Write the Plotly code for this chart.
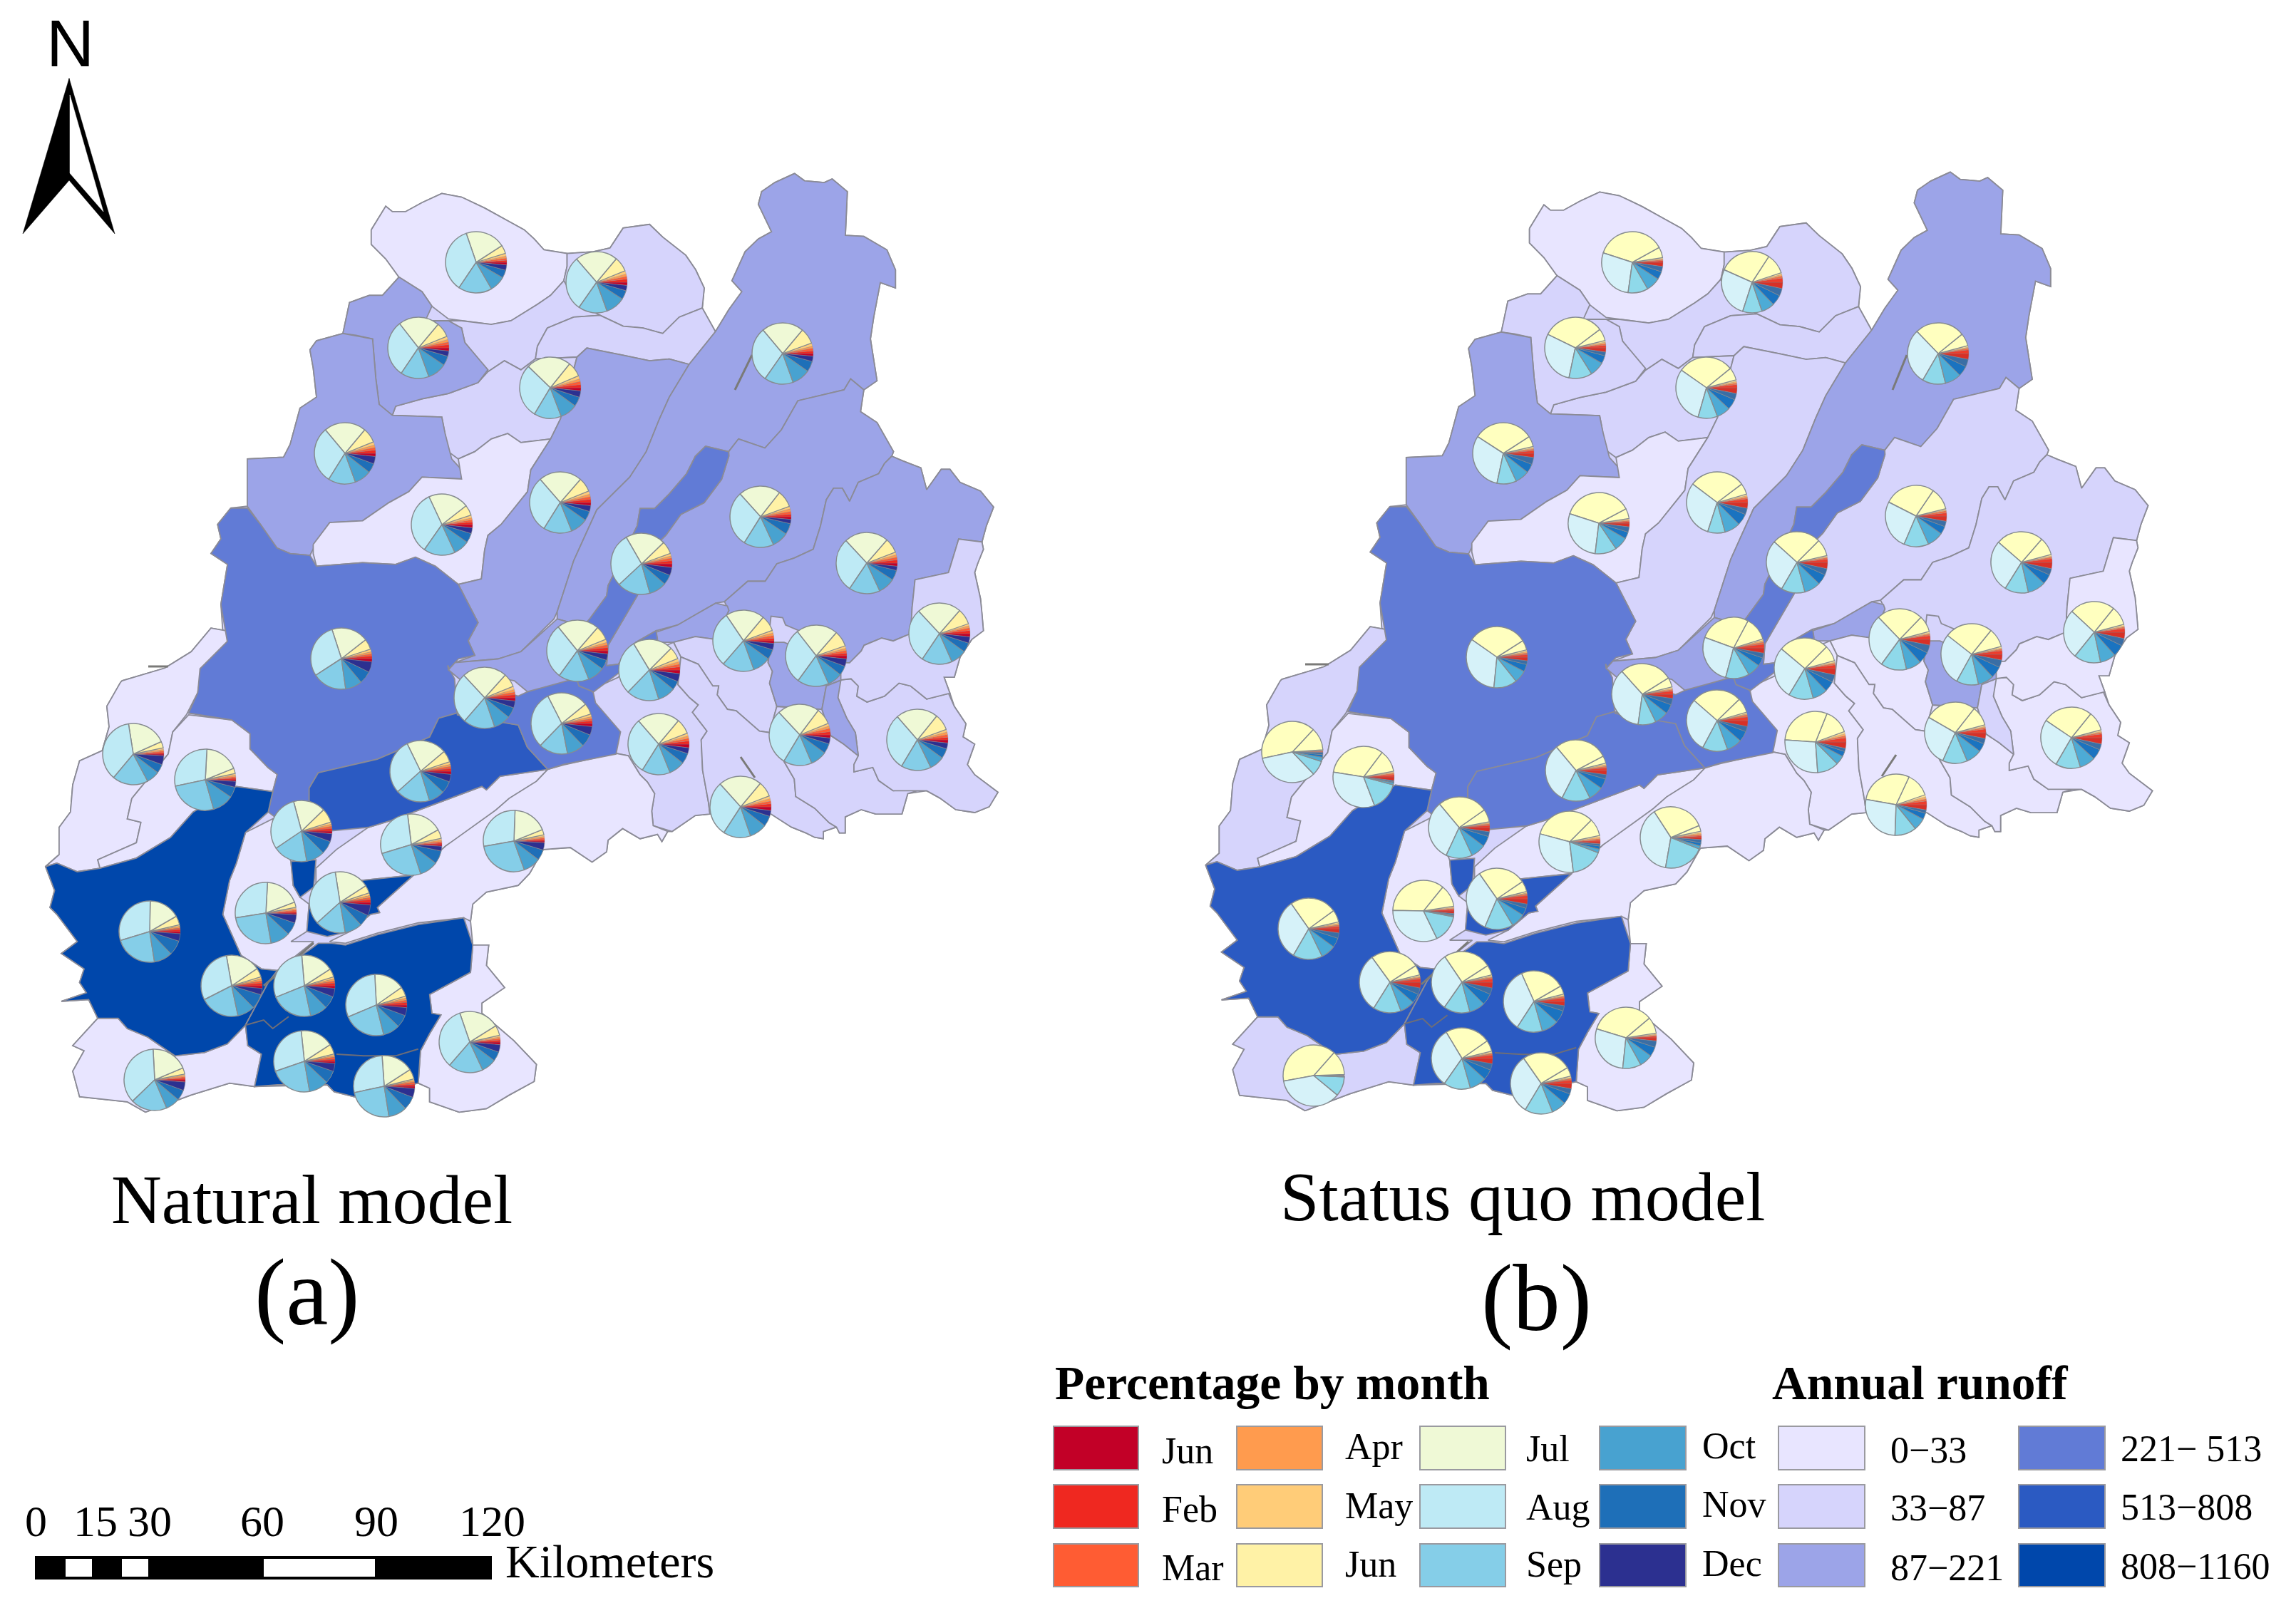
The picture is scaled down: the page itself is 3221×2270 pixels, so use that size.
import plotly.graph_objects as go

W, H = 3221, 2270

def z1(p): return [(x / 1.081, 200 + y / 1.96) for x, y in p]
def z2(p): return [(x / 1.568, 900 + y / 2.09) for x, y in p]
def z9(p): return [(800 + x / 2.45, 640 + y / 2.45) for x, y in p]

RUNOFF_COLORS = ['#E8E5FF', '#D6D4FC', '#9CA4E8', '#617BD6', '#2B5AC2', '#0047AB']
RUNOFF_LABELS = ['0\u221233', '33\u221287', '87\u2212221', '221\u2212 513', '513\u2212808', '808\u22121160']
MONTH_LABELS = ['Jun', 'Feb', 'Mar', 'Apr', 'May', 'Jun', 'Jul', 'Aug', 'Sep', 'Oct', 'Nov', 'Dec']
MONTH_COLORS_A = ['#C20027', '#EF2820', '#FF5C33', '#FF9B4E', '#FFCC78', '#FFF2A6',
                  '#EFF9D6', '#BEEAF5', '#85CEE8', '#48A2D0', '#1E6FB8', '#2C3090']
MONTH_COLORS_B = ['#D73027', '#EE3B2B', '#F46D43', '#FDAE61', '#FEE090', '#FFFFBF',
                  '#FFFFBF', '#D6F2F9', '#8FD9EA', '#4DABD6', '#1A73C0', '#3A6EA5']

# ---- sub-basin outlines
OUTER = (z1([(563,240),(585,175),(595,190),(615,190),(640,165),(670,140),(700,150),(735,180),(770,215),(795,240),(810,265),(825,295),(860,305),(900,300),(925,290),(945,235),(985,225),(1005,260),(1040,310),(1055,350),(1068,400),(1065,455),(1085,520),(1105,460),(1125,410),(1110,380),(1130,300),(1150,265),(1170,245),(1150,170),(1155,135),(1175,110),(1205,85),(1220,105),(1250,110),(1262,100),(1285,135),(1282,255),(1310,258),(1345,295),(1358,350),(1358,400),(1335,385),(1325,480),(1320,540),(1330,655),(1310,680),(1305,740),(1330,770),(1355,850)])
         + z9([(1105,0),(1140,15),(1205,40),(1225,115),(1275,45),(1305,45),(1340,90),(1410,120),(1455,175),(1430,240),(1415,295),(1420,320),(1400,370),(1390,400),(1410,490),(1415,540),(1420,600),(1380,630),(1340,690),(1320,760),(1285,760),(1305,815),(1320,860),(1360,920),(1350,965),(1390,990),(1365,1060),(1390,1095),(1470,1155),(1440,1205),(1390,1225),(1325,1215),(1270,1175),(1225,1150),(1160,1160),(1140,1230),(1050,1230),(1000,1215),(945,1240),(945,1295),(925,1295),(915,1275),(870,1290),(870,1315),(840,1310),(810,1295),(760,1275),(690,1230),(480,1230),(430,1235),(350,1290),(335,1290),(315,1325),(300,1300),(240,1315),(180,1280),(130,1320),(125,1360),(75,1395),(0,1345)])
         + z2([(1195,610),(1165,680),(1140,715),(1070,735),(1040,770),(1035,820),(1040,890),(1075,890),(1070,950),(1110,1015),(1060,1060),(1060,1090),(1130,1170),(1180,1240),(1175,1290),(1120,1330),(1070,1370),(1010,1380),(945,1350),(945,1310),(920,1295),(780,1335),(735,1320),(720,1300),(560,1305),(505,1295),(420,1330),(320,1380),(280,1350),(175,1335),(160,1260),(185,1200),(160,1185),(215,1105),(195,1050),(135,1055),(190,1030),(175,1000),(185,960),(135,915),(170,880),(125,800),(110,780),(120,730),(100,660),(130,625),(130,545),(155,500),(160,420),(175,350),(225,320),(240,250),(235,190),(265,120)])
         + z1([(185,1480),(250,1445),(290,1400),(320,1335),(350,1345),(340,1400),(335,1270),(345,1160),(320,1130),(335,1090),(330,1050),(350,1005),(375,1000),(375,870),(430,865),(440,830),(455,730),(480,700),(475,620),(470,570),(480,545),(520,525),(530,440),(560,420),(580,420),(605,370),(585,320),(563,280)]))
N1 = z1([(563,240),(585,175),(595,190),(615,190),(640,165),(670,140),(700,150),(735,180),(770,215),(795,240),(810,265),(825,295),(860,305),(860,340),(855,380),(835,420),(815,445),(775,490),(745,500),(700,490),(680,485),(655,450),(640,410),(605,370),(585,320),(563,280)])
N2 = z1([(860,305),(900,300),(925,290),(945,235),(985,225),(1005,260),(1040,310),(1055,350),(1068,400),(1065,455),(1030,480),(1005,525),(975,510),(945,505),(910,475),(875,440),(855,380),(860,340)])
N3 = z1([(650,490),(700,490),(745,500),(775,490),(815,445),(835,420),(855,380),(875,440),(910,475),(870,480),(830,510),(815,560),(812,595),(790,625),(765,600),(740,630),(705,550),(700,510)])
N6 = z1([(910,475),(945,505),(975,510),(1005,525),(1030,480),(1065,455),(1085,520),(1045,610),(1015,595),(985,600),(945,585),(890,565),(875,590),(812,595),(815,560),(830,510),(870,480)])
N7 = z1([(740,630),(765,600),(790,625),(812,595),(875,590),(850,760),(835,815),(790,825),(770,800),(745,815),(720,850),(695,870),(680,850),(670,755),(595,750),(600,725),(640,705),(680,690),(725,660)])
N4 = z1([(520,525),(530,440),(560,420),(580,420),(605,370),(640,410),(655,450),(645,490),(680,490),(700,510),(705,550),(740,625),(725,660),(680,690),(640,705),(600,725),(595,750),(575,720),(570,650),(565,540),(540,530)])
N5 = z1([(470,570),(480,545),(510,530),(520,525),(565,540),(570,650),(575,720),(595,750),(670,755),(675,800),(685,870),(700,900),(700,925),(640,920),(620,960),(590,990),(550,1040),(500,1045),(480,1100),(470,1135),(440,1130),(420,1115),(395,1050),(375,1000),(375,870),(430,865),(440,830),(455,730),(480,700),(475,620)])
N9 = z1([(475,1105),(500,1045),(550,1040),(590,990),(620,960),(640,920),(700,925),(695,870),(720,850),(745,815),(770,800),(790,825),(835,815),(805,900),(800,960),(760,1050),(740,1080),(735,1120),(730,1200),(695,1215),(660,1165),(630,1140),(600,1160),(550,1155),(480,1165),(475,1130)])
N8 = z1([(875,590),(890,565),(945,585),(985,600),(1015,595),(1045,610),(1015,700),(1000,760),(980,850),(955,920),(905,1010),(870,1150),(845,1290),(840,1310),(790,1400),(755,1420),(690,1430),(720,1410),(710,1370),(725,1320),(695,1215),(730,1200),(735,1120),(740,1080),(760,1050),(800,960),(805,900),(835,815),(850,760)])
N8B = z1([(845,1310),(895,1335),(885,1400),(880,1470),(830,1495),(800,1510),(780,1480),(750,1470),(700,1480),(680,1450),(690,1430),(755,1420),(790,1400)])
N10 = z1([(1205,85),(1220,105),(1250,110),(1262,100),(1285,135),(1282,255),(1310,258),(1345,295),(1358,350),(1358,400),(1335,385),(1325,480),(1320,540),(1330,655),(1310,680),(1290,650),(1280,680),(1210,710),(1185,790),(1160,840),(1120,815),(1105,850),(1070,835)]) + z9([(430,0),(400,60),(340,130),(290,180),(240,180),(230,240),(130,445),(125,480),(70,555)]) + z1([(895,1335),(845,1310),(845,1290),(870,1150),(905,1010),(955,920),(980,850),(1000,760),(1015,700),(1045,610),(1085,520),(1105,460),(1125,410),(1110,380),(1130,300),(1150,265),(1170,245),(1150,170),(1155,135),(1175,110)])
N12 = z1([(1105,850),(1120,815),(1160,840),(1185,790),(1210,710),(1280,680),(1290,650),(1310,680),(1305,740),(1330,770),(1355,850)]) + z9([(1105,0),(1080,25),(1060,60),(990,90),(960,155),(935,110),(905,110),(880,150),(860,240),(835,320),(770,350),(710,370),(670,430),(610,430),(530,500),(500,505),(430,545),(370,580),(295,600),(225,640),(165,715),(125,720),(130,650),(160,600),(230,480),(310,290),(330,270),(380,200),(460,160),(520,80),(545,0)])
N13 = z9([(1105,0),(1140,15),(1205,40),(1225,115),(1275,45),(1305,45),(1340,90),(1410,120),(1455,175),(1430,240),(1415,295),(1335,285),(1300,400),(1185,425),(1175,520),(1170,610),(1110,635),(1070,625),(1010,650),(1000,670),(960,710),(935,710),(930,660),(740,580),(730,555),(690,550),(680,640),(500,630),(545,530),(530,500),(610,430),(670,430),(710,370),(770,350),(835,320),(860,240),(880,150),(905,110),(935,110),(960,155),(990,90),(1060,60),(1080,25)])
N14 = z9([(295,605),(370,580),(430,545),(500,505),(540,515),(545,530),(500,630),(430,620),(355,640),(300,640)])
STRIP = z1([(1070,835),(1105,850)]) + z9([(545,0),(520,80),(460,160),(380,200),(330,270),(310,290),(230,480),(160,600),(130,650),(125,720),(165,715),(225,640),(295,600),(300,630),(200,720),(80,810),(30,790),(0,700),(40,590),(70,555),(125,480),(130,445),(230,240),(240,180),(290,180),(340,130),(400,60),(430,0)])
N15 = z9([(690,640),(735,640),(930,720),(930,770),(880,790),(865,870),(710,860),(685,780),(695,740),(680,710)])
N16 = z9([(880,790),(930,770),(920,830),(950,900),(980,950),(990,1030),(940,990),(895,960),(865,870)])
LOW_A = z9([(355,640),(210,700),(165,760),(45,815),(80,850),(90,930),(165,955),(150,1020),(200,1030),(240,1095),(265,1120),(290,1160),(280,1220),(285,1270),(350,1290),(430,1235),(480,1230),(475,1190),(455,1080),(450,975),(470,945),(420,880),(440,855),(410,830),(370,785),(380,690)])
LOW_B = z9([(380,690),(440,715),(490,790),(510,790),(505,820),(540,870),(570,875),(650,945),(685,950),(735,1050),(770,1110),(775,1170),(840,1210),(890,1260),(915,1275),(870,1290),(870,1315),(840,1310),(810,1295),(760,1275),(690,1230),(480,1230),(475,1190),(455,1080),(450,975),(470,945),(420,880),(440,855),(410,830),(370,785)])
LOW_C = z9([(355,640),(430,620),(500,630),(680,640),(680,710),(695,740),(685,780),(710,860),(685,950),(650,945),(570,875),(540,870),(505,820),(510,790),(490,790),(440,715),(380,690)])
LOW_D = z9([(685,950),(710,860),(865,870),(895,960),(940,990),(990,1030),(975,1060),(975,1085),(1040,1070),(1060,1115),(1110,1150),(1225,1140),(1160,1160),(1140,1230),(1050,1230),(1000,1215),(945,1240),(945,1295),(925,1295),(915,1275),(890,1260),(840,1210),(775,1170),(770,1110),(735,1050)])
LOW_E = z9([(920,770),(965,765),(990,790),(985,825),(1020,845),(1080,825),(1130,780),(1170,790),(1225,835),(1300,815),(1320,860),(1360,920),(1350,965),(1390,990),(1365,1060),(1390,1095),(1470,1155),(1440,1205),(1390,1225),(1325,1215),(1270,1175),(1225,1150),(1110,1150),(1060,1115),(1040,1070),(975,1085),(975,1060),(990,1030),(980,950),(950,900),(920,830)])
LOW_F = z9([(1185,425),(1300,400),(1335,285),(1415,295),(1420,320),(1400,370),(1390,400),(1410,490),(1415,540),(1420,600),(1380,630),(1340,690),(1320,760),(1285,760),(1305,815),(1225,835),(1170,790),(1130,780),(1080,825),(1020,845),(985,825),(990,790),(965,765),(920,770),(935,710),(960,710),(1000,670),(1010,650),(1070,625),(1110,635),(1170,610),(1175,520)])
G1 = z2([(695,665),(740,610),(810,545),(860,525),(1060,425),(1070,435),(1100,395),(1205,375),(1180,410),(1120,460),(1090,495),(1060,530),(980,600),(910,685),(800,700),(695,720)])
G2 = z2([(1090,495),(1120,460),(1180,410),(1205,375),(1240,362),(1355,328)]) + z9([(150,1020),(200,1030),(240,1095),(265,1120),(290,1160),(280,1220),(285,1270),(335,1290),(315,1325),(300,1300),(240,1315),(180,1280),(130,1320),(125,1360),(75,1395),(0,1345)]) + z2([(1195,610),(1165,680),(1140,715),(1070,735),(1040,770),(1035,820),(1020,810),(920,825),(830,855),(760,885),(725,880),(770,850),(815,800),(835,795),(830,780),(910,685),(980,600)])
H_W = z1([(185,1480),(250,1445),(290,1400),(320,1335),(350,1345),(340,1400),(305,1450)]) + z2([(435,150),(410,215),(380,265),(370,330),(290,460),(280,520),(310,530),(300,590),(215,640),(220,665),(170,675),(125,650),(100,660),(130,625),(130,545),(155,500),(160,420),(175,350),(225,320),(240,250),(235,190),(265,120)])
I_W = z2([(220,665),(300,635),(375,575),(425,500),(520,425),(600,440),(610,390),(590,370),(550,315),(550,270),(510,230),(415,215),(380,265),(370,330),(290,460),(280,520),(310,530),(300,590),(215,640)])
J_C = z1([(350,1005),(375,1005),(395,1050),(420,1115),(440,1130),(470,1135),(480,1165),(550,1155),(600,1160),(630,1140),(660,1165),(695,1215),(725,1320),(710,1370),(720,1410),(695,1420),(680,1450)]) + z2([(985,70),(1000,110),(1005,210),(965,225),(945,280),(830,345),(700,385),(680,430),(680,480),(730,555),(650,560),(590,500),(600,440),(610,390),(590,370),(550,315),(550,270),(510,230),(415,210),(435,150),(440,80),(500,0)]) + z1([(335,1270),(345,1160),(320,1130),(335,1090),(330,1050)])
K_C = z2([(680,430),(700,385),(830,345),(945,280),(965,225),(1005,210),(1140,245),(1160,310),(1205,375),(1100,395),(1070,435),(1060,425),(860,525),(810,545),(730,555),(680,480)])
L_C = z2([(1005,215),(1090,140),(1140,160),(1230,105),(1270,100),(1305,150),(1310,180),(1365,265),(1355,330),(1240,360),(1205,375),(1160,310),(1140,245)])
M_S = z2([(100,660),(125,650),(170,675),(220,665),(300,635),(375,575),(425,500),(520,425),(600,440),(590,500),(540,560),(520,650),(505,700),(490,800),(530,920),(575,960),(610,965),(590,1000),(540,1125),(500,1180),(450,1205),(385,1215),(325,1160),(280,1135),(260,1105),(215,1105),(195,1050),(135,1055),(190,1030),(175,1000),(185,960),(135,915),(170,880),(125,800),(110,780),(120,730)])
N_S = z2([(610,965),(680,905),(700,885),(730,885),(760,890),(830,860),(920,830),(1020,810),(1040,890),(1035,970),(945,1035),(950,1090),(970,1095),(945,1150),(925,1200),(920,1295),(780,1335),(735,1320),(720,1300),(610,1300),(560,1305),(575,1210),(545,1185),(540,1125),(590,1000)])
O1 = z2([(640,645),(695,640),(690,720),(660,750),(645,715)])
O2 = z2([(695,720),(800,700),(910,685),(830,780),(835,795),(815,800),(770,850),(720,865),(675,850),(680,770)])
Q_S = z2([(540,560),(600,520),(640,645),(645,715),(660,750),(680,770),(675,850),(640,880),(690,880),(610,965),(575,960),(530,920),(490,800),(505,700),(520,650)])
R_S = z2([(215,1105),(260,1105),(280,1135),(325,1160),(385,1215),(450,1205),(500,1180),(540,1125),(545,1185),(575,1210),(560,1305),(505,1295),(420,1330),(320,1380),(280,1350),(175,1335),(160,1260),(185,1200),(160,1185)])
S_S = z2([(1040,890),(1075,890),(1070,950),(1110,1015),(1060,1060),(1060,1090),(1130,1170),(1180,1240),(1175,1290),(1120,1330),(1070,1370),(1010,1380),(945,1350),(945,1310),(920,1295),(925,1200),(945,1150),(970,1095),(950,1090),(945,1035),(1035,970)])

# (outline, runoff class in panel a, runoff class in panel b)
BASINS = [
    (N1, 0, 0), (N2, 1, 1), (N3, 1, 1), (N6, 1, 1), (N7, 1, 1), (N4, 2, 1), (N5, 2, 2), (N9, 0, 0),
    (N8, 2, 1), (N10, 2, 2), (N12, 2, 1), (N13, 2, 1), (N14, 2, 2), (LOW_C, 1, 0), (LOW_A, 1, 0),
    (LOW_B, 1, 0), (LOW_D, 1, 0), (LOW_E, 1, 0), (LOW_F, 1, 0), (G1, 0, 0), (G2, 0, 0), (H_W, 0, 1),
    (I_W, 0, 0), (J_C, 3, 3), (K_C, 4, 3), (L_C, 3, 3), (N8B, 2, 2), (STRIP, 3, 3), (N15, 2, 2), (N16, 2, 1),
    (Q_S, 0, 0), (R_S, 0, 1), (S_S, 0, 0), (M_S, 5, 4), (N_S, 5, 4), (O1, 5, 4), (O2, 5, 4),
]
INNER_LINES = [z2([(540,1125),(580,1110),(600,1135),(635,1100)]), z2([(740,1210),(800,1215),(870,1215),(920,1195)])]
STUBS_A = [[(1031,547),(1055,498)], [(1039,1062),(1059,1091)], [(370,1383),(440,1323)], [(208,935),(236,935)]]
STUBS_B = [[(2655,547),(2675,498)], [(2660,1059),(2640,1089)], [(1994,1381),(2060,1321)], [(1831,932),(1864,932)]]

# ---- pies: centre x, centre y, then share by month Jan..Dec (degrees of the pie)
PIES_A = [
    (668,368,[5,4,4,4,5,16,76,127,64,30,15,10]), (837,396,[6,6,5,5,6,28,81,104,55,37,17,10]),
    (587,488,[6,6,5,5,6,28,78,108,54,36,18,10]), (772,544,[6,6,6,5,6,28,85,103,52,33,18,12]),
    (484,636,[6,6,5,5,6,28,80,108,52,32,18,14]), (1098,496,[5,5,5,4,6,30,80,105,55,35,20,10]),
    (620,736,[6,5,4,4,5,20,77,120,60,30,18,11]), (786,705,[6,6,5,5,6,27,82,107,54,33,18,11]),
    (1067,725,[5,5,5,5,5,32,80,106,57,31,21,8]), (900,791,[7,6,5,4,5,24,76,103,63,33,19,15]),
    (1216,790,[6,6,5,5,5,28,84,103,59,32,19,8]), (479,924,[6,5,4,4,5,20,70,105,65,32,24,20]),
    (810,913,[6,6,5,5,6,27,80,105,58,32,18,12]), (911,940,[7,6,5,5,6,23,76,105,62,33,17,15]),
    (1043,899,[5,5,5,5,5,30,74,105,61,34,19,12]), (1145,920,[6,5,5,4,5,30,79,106,60,28,18,14]),
    (1318,889,[6,6,5,4,4,30,84,103,58,30,18,12]), (924,1044,[7,6,5,5,5,29,81,107,54,30,20,11]),
    (1122,1031,[6,6,6,5,5,31,80,106,54,31,19,11]), (1287,1038,[6,5,5,5,5,31,80,108,57,28,19,11]),
    (1039,1132,[7,6,5,5,5,29,82,105,52,33,20,11]), (187,1058,[3,3,3,3,3,12,75,131,68,25,17,17]),
    (288,1094,[3,3,3,3,3,10,65,105,94,40,20,11]), (680,979,[6,6,5,5,6,26,85,96,60,32,20,13]),
    (788,1015,[6,5,4,4,5,21,78,109,55,33,24,16]), (590,1082,[6,5,4,4,5,22,76,106,65,30,23,14]),
    (423,1166,[5,5,4,4,4,27,61,109,66,35,25,15]), (577,1185,[3,3,3,3,3,17,68,100,91,35,25,9]),
    (721,1180,[3,3,3,3,3,10,66,102,100,33,20,14]), (477,1266,[5,5,4,4,5,15,66,123,58,33,22,20]),
    (373,1281,[3,3,3,3,2,10,66,102,91,37,24,16]), (210,1307,[4,4,3,3,3,17,59,108,82,35,28,14]),
    (325,1383,[5,5,4,4,4,17,66,107,75,33,28,12]), (427,1383,[5,5,4,4,4,16,62,107,80,33,24,16]),
    (528,1410,[5,5,4,4,4,18,58,110,81,32,24,15]), (659,1462,[5,4,3,3,3,19,77,120,66,28,18,14]),
    (427,1489,[4,4,4,3,3,19,63,103,81,37,24,15]), (539,1524,[4,4,4,3,3,19,61,98,87,35,25,17]),
    (217,1515,[4,3,3,3,2,12,70,131,69,27,20,16]),
]
PIES_B = [
    (2688,724,[10,6,4,2,2,42,97,94,47,31,15,10]), (2521,789,[12,6,3,2,2,32,93,102,45,31,20,12]),
    (2836,789,[12,7,3,2,3,34,90,99,45,34,19,12]), (2665,897,[11,7,3,2,3,31,88,100,49,29,22,15]),
    (2766,918,[11,7,3,2,3,36,91,99,42,30,22,14]), (2938,887,[12,7,3,2,3,36,86,94,51,30,22,14]),
    (2532,938,[12,7,3,2,3,30,95,99,47,28,20,14]), (2547,1041,[12,8,4,4,4,48,108,98,41,17,10,6]),
    (2743,1028,[11,7,3,2,3,37,98,96,47,30,16,10]), (2906,1035,[12,7,3,2,3,36,95,94,47,30,20,11]),
    (2660,1129,[10,7,4,4,4,46,105,98,41,23,12,6]), (2432,909,[10,7,4,3,3,45,98,95,45,25,16,9]),
    (2290,368,[8,3,2,2,2,20,133,100,38,27,15,10]), (2458,396,[12,8,4,3,3,39,99,96,37,25,20,14]),
    (2210,488,[8,5,3,3,3,23,117,104,44,28,15,7]), (2394,544,[11,6,3,3,3,24,106,109,37,26,20,12]),
    (2109,636,[8,5,3,2,3,20,114,111,37,27,17,13]), (2719,496,[11,7,3,2,3,24,95,106,44,31,20,14]),
    (2243,734,[7,3,2,2,2,19,134,101,41,26,13,10]), (2409,705,[11,7,3,3,3,21,106,109,33,30,22,12]),
    (2100,922,[7,5,3,3,3,19,114,121,45,24,14,7]), (1813,1055,[1,1,1,1,1,43,145,122,28,8,5,4]),
    (1913,1090,[7,4,3,2,2,42,118,120,54,4,2,2]), (2047,1161,[8,4,3,2,2,24,95,115,50,28,20,9]),
    (2202,1181,[4,3,3,3,3,33,120,112,62,7,6,4]), (2344,1175,[4,3,3,3,3,11,100,137,78,6,6,6]),
    (2100,1261,[10,6,3,2,3,20,91,122,54,27,14,8]), (1997,1278,[5,3,2,2,2,42,128,117,53,2,2,2]),
    (1836,1303,[8,4,3,3,3,23,89,115,56,28,18,10]), (1950,1378,[11,6,3,2,3,19,93,112,53,28,18,12]),
    (2051,1378,[11,6,3,2,3,19,91,111,50,30,22,12]), (2152,1405,[8,6,3,2,3,16,84,123,49,32,24,10]),
    (2281,1456,[6,3,2,2,2,31,123,101,35,25,18,12]), (2051,1485,[10,6,3,2,3,21,86,114,51,32,20,12]),
    (2162,1520,[10,6,3,2,3,17,94,114,53,28,20,10]), (1843,1509,[0.5,0.5,0.5,0.5,0.5,46.5,142,130,37,1,0.5,0.5]),
    (2304,974,[8,6,3,2,3,18,100,130,34,26,18,12]), (2409,1011,[11,7,4,2,3,28,95,103,48,29,20,10]),
    (2211,1081,[8,5,3,3,3,14,102,113,54,28,19,8]),
]
PIE_R = 43
PIE_LINE_W = [0.3, 0.3, 0.3, 0.3, 0.3, 1.3, 1.5, 1.5, 1.5, 1.3, 1.0, 0.6]

# ---- map furniture
SCALE_TICKS = [('0',50),('15',134),('30',210),('60',368),('90',528),('120',690)]
SCALE_BAR = (49, 690, 2183, 2216)
SCALE_GAPS = [(92,129),(171,208),(370,526)]
ARROW_DARK = [(97,110),(32,328),(97,253)]
ARROW_OUTER = [(97,110),(161,328),(97,253)]
ARROW_INNER = [(98,133),(145,297),(98,243)]

LEG_COL_X = [(1478,1597),(1735,1855),(1992,2112),(2244,2365),(2495,2616),(2832,2953)]
LEG_ROW_Y = [(2001,2062),(2083,2144),(2166,2226)]
LEG_TEXT_X = [1628,1885,2139,2386,2650,2973]
LEG_TEXT_BASE = [[2053,2135,2217],[2047,2130,2212],[2050,2132,2212],[2046,2128,2211],[2052,2133,2217],[2050,2132,2215]]

BORDER = '#8b8b96'
SERIF = 'Liberation Serif'

def bx(x): return 1628 + 0.994 * x
def by(y): return y - 2

fig = go.Figure()

def poly(pts, fill, line=BORDER, lw=1.8):
    xs = [p[0] for p in pts] + [pts[0][0]]
    ys = [p[1] for p in pts] + [pts[0][1]]
    fig.add_trace(go.Scatter(x=xs, y=ys, mode='lines', fill='toself', fillcolor=fill,
                             line=dict(color=line, width=lw), hoverinfo='skip', showlegend=False))

def path(pts, color=BORDER, lw=2):
    fig.add_trace(go.Scatter(x=[p[0] for p in pts], y=[p[1] for p in pts], mode='lines',
                             line=dict(color=color, width=lw), hoverinfo='skip', showlegend=False))

poly(OUTER, RUNOFF_COLORS[1])
poly([(bx(x), by(y)) for x, y in OUTER], RUNOFF_COLORS[1])
for pts, ca, cb in BASINS:
    poly(pts, RUNOFF_COLORS[ca])
for pts, ca, cb in BASINS:
    poly([(bx(x), by(y)) for x, y in pts], RUNOFF_COLORS[cb])
for ln in INNER_LINES:
    path(ln, '#6e6e78')
    path([(bx(x), by(y)) for x, y in ln], '#6e6e78')
for s in STUBS_A + STUBS_B:
    path(s, '#7a7a78', 3)

def add_pies(rows, colors):
    for cx, cy, vals in rows:
        fig.add_trace(go.Pie(values=vals, labels=[str(i) for i in range(12)], sort=False,
                             direction='counterclockwise', rotation=90, textinfo='none',
                             hoverinfo='skip', showlegend=False,
                             marker=dict(colors=colors, line=dict(color='#868c90', width=PIE_LINE_W)),
                             domain=dict(x=[(cx - PIE_R) / W, (cx + PIE_R) / W],
                                         y=[1 - (cy + PIE_R) / H, 1 - (cy - PIE_R) / H])))

add_pies(PIES_A, MONTH_COLORS_A)
add_pies(PIES_B, MONTH_COLORS_B)

shapes = []
def rect(x0, x1, y0, y1, fill, line=None, lw=0):
    shapes.append(dict(type='rect', xref='x', yref='y', x0=x0, x1=x1, y0=y0, y1=y1, fillcolor=fill,
                       line=dict(color=line or fill, width=lw)))

# legend swatches
swatches = [MONTH_COLORS_A[0:3], MONTH_COLORS_A[3:6], MONTH_COLORS_A[6:9], MONTH_COLORS_A[9:12],
            RUNOFF_COLORS[0:3], RUNOFF_COLORS[3:6]]
for (x0, x1), col in zip(LEG_COL_X, swatches):
    for (y0, y1), c in zip(LEG_ROW_Y, col):
        rect(x0, x1, y0, y1, c, '#9a9aa0', 2)
# scale bar
rect(SCALE_BAR[0], SCALE_BAR[1], SCALE_BAR[2], SCALE_BAR[3], '#000000')
for a, b in SCALE_GAPS:
    rect(a, b, SCALE_BAR[2] + 4, SCALE_BAR[3] - 4, '#ffffff')

poly(ARROW_DARK, '#000000', '#000000', 0.5)
poly(ARROW_OUTER, '#000000', '#000000', 0.5)
poly(ARROW_INNER, '#ffffff', '#ffffff', 0.5)

ann = []
def text(t, x, base, size, anchor='left', family=SERIF):
    ann.append(dict(text=t, x=x, y=base - 0.3375 * size, xref='x', yref='y', xanchor=anchor, yanchor='middle',
                    showarrow=False, font=dict(family=family, size=size, color='#000000')))

text('Natural model', 437, 1716, 98, 'center')
text('(a)', 431, 1858, 133, 'center')
text('Status quo model', 2136, 1712, 98, 'center')
text('(b)', 2155, 1866, 133, 'center')
text('<b>Percentage by month</b>', 1478, 1963, 67.5)
text('<b>Annual runoff</b>', 2484, 1963, 67.5)
text('Kilometers', 707, 2213, 66)
for lab, x in SCALE_TICKS:
    text(lab, x, 2155, 62, 'center')
text('N', 98, 92, 93, 'center', 'Liberation Sans')

leg_labels = [MONTH_LABELS[0:3], MONTH_LABELS[3:6], MONTH_LABELS[6:9], MONTH_LABELS[9:12],
              RUNOFF_LABELS[0:3], RUNOFF_LABELS[3:6]]
for x, bases, labs in zip(LEG_TEXT_X, LEG_TEXT_BASE, leg_labels):
    for b, lab in zip(bases, labs):
        text(lab, x, b, 52)

fig.update_layout(
    width=W, height=H, margin=dict(l=0, r=0, t=0, b=0), paper_bgcolor='white', plot_bgcolor='white',
    xaxis=dict(range=[0, W], visible=False, fixedrange=True),
    yaxis=dict(range=[H, 0], visible=False, fixedrange=True),
    shapes=shapes, annotations=ann, showlegend=False,
)
fig.write_html("out.html", config={"displayModeBar": False}, post_script="document.body.style.margin='0';")
